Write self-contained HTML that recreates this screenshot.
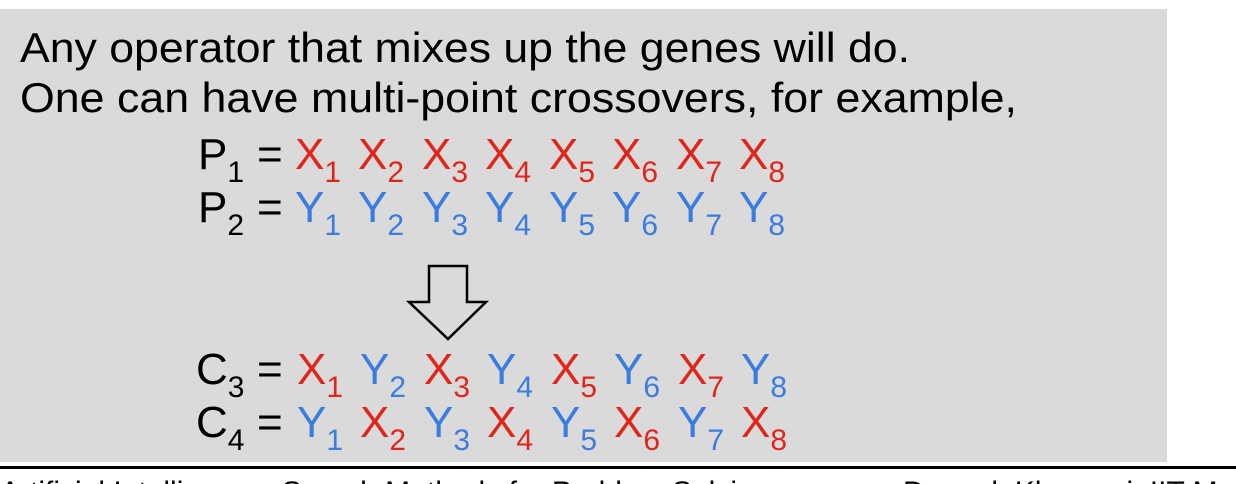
<!DOCTYPE html>
<html><head><meta charset="utf-8"><style>
html,body{margin:0;padding:0;background:#fff;width:1236px;height:484px;overflow:hidden;}
svg{display:block;overflow:hidden;}
text{font-family:"Liberation Sans",Arial,sans-serif;}
</style></head><body>
<svg width="1236" height="484" viewBox="0 0 1236 484" xmlns="http://www.w3.org/2000/svg">
<rect x="0" y="9" width="1167" height="453" fill="#dadada"/>
<rect x="0" y="466" width="1236" height="3" fill="#000"/>
<text x="20" y="62" font-size="42" fill="#000" textLength="890" lengthAdjust="spacingAndGlyphs">Any operator that mixes up the genes will do.</text>
<text x="20" y="112" font-size="42" fill="#000" textLength="997" lengthAdjust="spacingAndGlyphs">One can have multi-point crossovers, for example,</text>
<g font-size="44">
<text x="198" y="169">P<tspan font-size="30" dy="13">1</tspan></text>
<text x="257" y="169">=</text>
<text x="198" y="222">P<tspan font-size="30" dy="13">2</tspan></text>
<text x="257" y="222">=</text>
<text x="196" y="384">C<tspan font-size="30" dy="13">3</tspan></text>
<text x="257" y="384">=</text>
<text x="196" y="437">C<tspan font-size="30" dy="13">4</tspan></text>
<text x="257" y="437">=</text>
</g>
<g font-size="44">
<g fill="#e0261b">
<text x="295" y="169">X<tspan font-size="30" dy="13">1</tspan></text>
<text x="358" y="169">X<tspan font-size="30" dy="13">2</tspan></text>
<text x="422" y="169">X<tspan font-size="30" dy="13">3</tspan></text>
<text x="485" y="169">X<tspan font-size="30" dy="13">4</tspan></text>
<text x="549" y="169">X<tspan font-size="30" dy="13">5</tspan></text>
<text x="612" y="169">X<tspan font-size="30" dy="13">6</tspan></text>
<text x="676" y="169">X<tspan font-size="30" dy="13">7</tspan></text>
<text x="739" y="169">X<tspan font-size="30" dy="13">8</tspan></text>
</g>
<g fill="#3a7ce0">
<text x="295" y="222">Y<tspan font-size="30" dy="13">1</tspan></text>
<text x="358" y="222">Y<tspan font-size="30" dy="13">2</tspan></text>
<text x="422" y="222">Y<tspan font-size="30" dy="13">3</tspan></text>
<text x="485" y="222">Y<tspan font-size="30" dy="13">4</tspan></text>
<text x="549" y="222">Y<tspan font-size="30" dy="13">5</tspan></text>
<text x="612" y="222">Y<tspan font-size="30" dy="13">6</tspan></text>
<text x="676" y="222">Y<tspan font-size="30" dy="13">7</tspan></text>
<text x="739" y="222">Y<tspan font-size="30" dy="13">8</tspan></text>
</g>
<text x="297" y="384" fill="#e0261b">X<tspan font-size="30" dy="13">1</tspan></text>
<text x="360" y="384" fill="#3a7ce0">Y<tspan font-size="30" dy="13">2</tspan></text>
<text x="424" y="384" fill="#e0261b">X<tspan font-size="30" dy="13">3</tspan></text>
<text x="487" y="384" fill="#3a7ce0">Y<tspan font-size="30" dy="13">4</tspan></text>
<text x="551" y="384" fill="#e0261b">X<tspan font-size="30" dy="13">5</tspan></text>
<text x="614" y="384" fill="#3a7ce0">Y<tspan font-size="30" dy="13">6</tspan></text>
<text x="678" y="384" fill="#e0261b">X<tspan font-size="30" dy="13">7</tspan></text>
<text x="741" y="384" fill="#3a7ce0">Y<tspan font-size="30" dy="13">8</tspan></text>
<text x="297" y="437" fill="#3a7ce0">Y<tspan font-size="30" dy="13">1</tspan></text>
<text x="360" y="437" fill="#e0261b">X<tspan font-size="30" dy="13">2</tspan></text>
<text x="424" y="437" fill="#3a7ce0">Y<tspan font-size="30" dy="13">3</tspan></text>
<text x="487" y="437" fill="#e0261b">X<tspan font-size="30" dy="13">4</tspan></text>
<text x="551" y="437" fill="#3a7ce0">Y<tspan font-size="30" dy="13">5</tspan></text>
<text x="614" y="437" fill="#e0261b">X<tspan font-size="30" dy="13">6</tspan></text>
<text x="678" y="437" fill="#3a7ce0">Y<tspan font-size="30" dy="13">7</tspan></text>
<text x="741" y="437" fill="#e0261b">X<tspan font-size="30" dy="13">8</tspan></text>
</g>
<polygon points="429,266 467,266 467,302 486,302 448,339 409,302 429,302" fill="none" stroke="#000" stroke-width="2.5" stroke-linejoin="miter"/>
<text x="0" y="502" font-size="30" fill="#000">Artificial Intelligence: Search Methods for Problem Solving</text>
<text x="903" y="502" font-size="30" fill="#000">Deepak Khemani, IIT Madras</text>
</svg>
</body></html>
